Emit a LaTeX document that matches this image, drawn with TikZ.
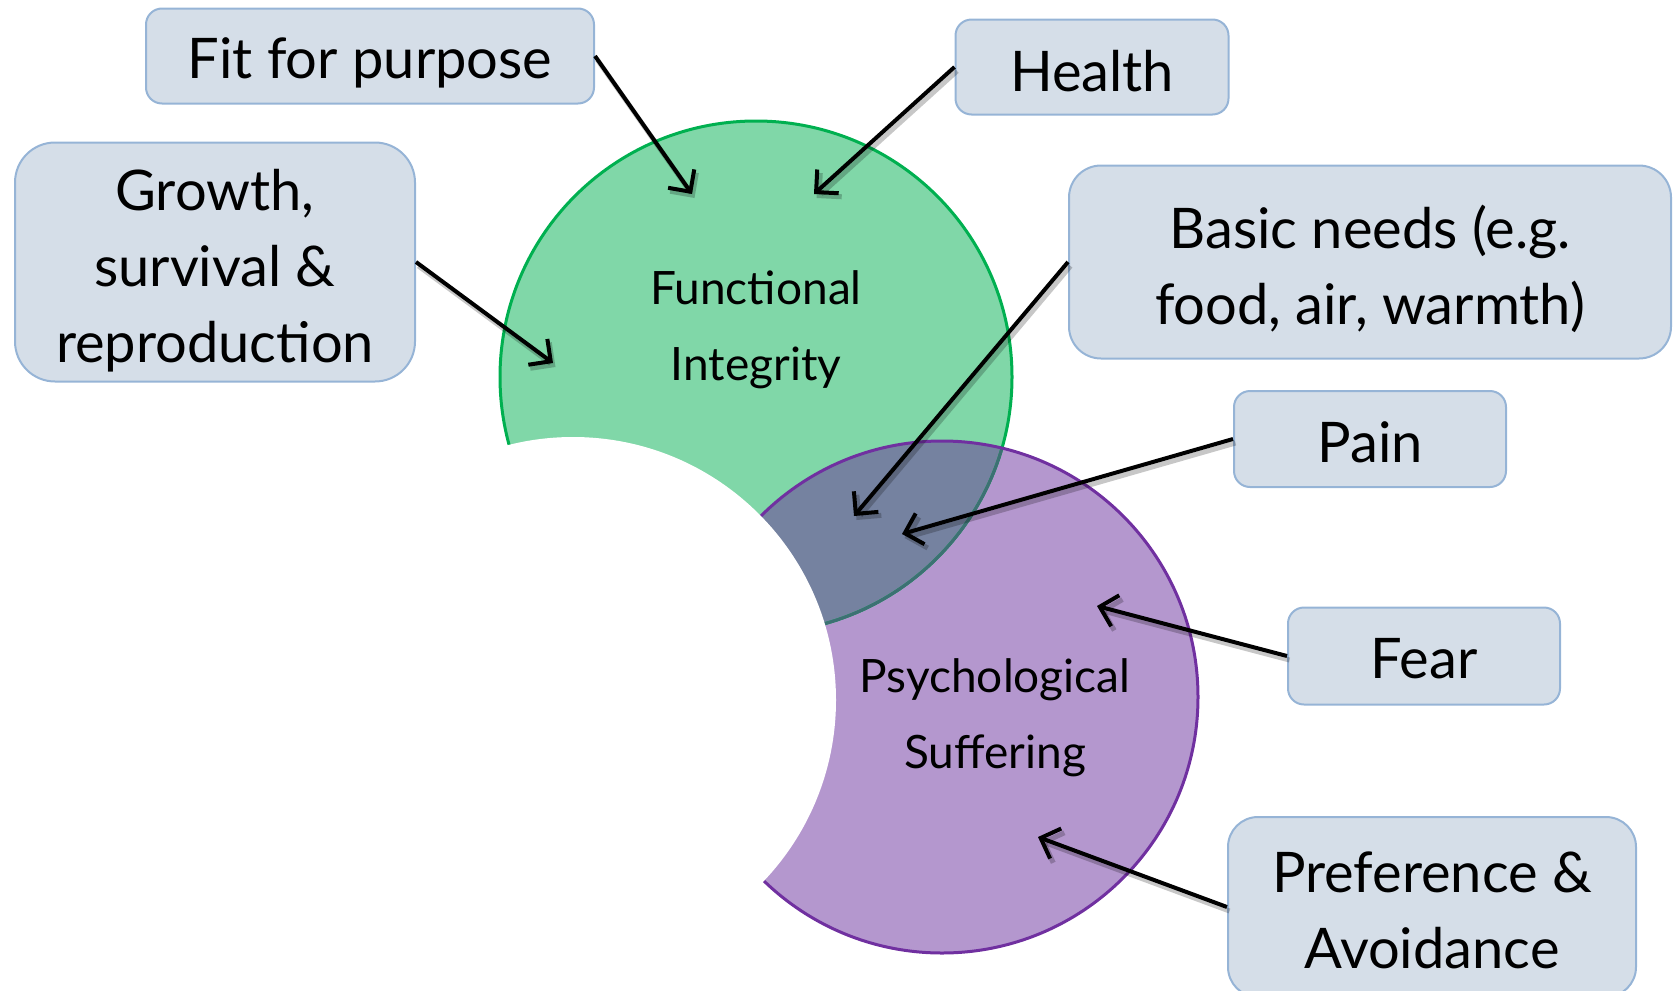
\documentclass[tikz,border=0pt]{standalone}
\usepackage{fontspec}
\setmainfont{Lato}
\usetikzlibrary{arrows.meta}
\definecolor{gfill}{RGB}{128,215,168}
\definecolor{gline}{RGB}{0,176,80}
\definecolor{pfill}{RGB}{180,151,206}
\definecolor{pline}{RGB}{112,48,160}
\definecolor{ofill}{RGB}{117,130,160}
\definecolor{oline}{RGB}{61,112,115}
\definecolor{boxfill}{RGB}{213,222,232}
\definecolor{boxline}{RGB}{150,180,214}
\begin{document}
\begin{tikzpicture}[x=1pt,y=-1pt,
  lbl/.style={draw=boxline, fill=boxfill, line width=2pt, inner sep=0pt},
  lbltext/.style={align=center, font=\fontsize{56}{76}\selectfont, inner sep=0pt},
  circtext/.style={align=center, font=\fontsize{46}{76}\selectfont},
  arr/.style={-{Straight Barb[length=16pt,width=32pt,line width=4pt]}, line width=4pt},
  arrshadow/.style={-{Straight Barb[length=16pt,width=32pt,line width=5pt]}, line width=5pt,
    draw=black, opacity=0.22, transform canvas={shift={(2.5pt,-4pt)}}}
]
\useasboundingbox (0,0) rectangle (1674,991);
% circles
\fill[gfill] (756,377) circle[radius=256pt];
\fill[pfill] (942,697) circle[radius=256pt];
\begin{scope}
  \clip (756,377) circle[radius=256pt];
  \fill[ofill] (942,697) circle[radius=256pt];
\end{scope}
\draw[gline, line width=3pt] (756,377) circle[radius=256pt];
\begin{scope}
  \clip (942,697) circle[radius=256pt];
  \draw[oline, line width=3pt] (756,377) circle[radius=256pt];
\end{scope}
\draw[pline, line width=3pt] (942,697) circle[radius=256pt];
\fill[white] (573,700) circle[radius=263pt];
% circle labels
\node[circtext] (fi) at (756,330) {Functional\\Integrity};
\node[circtext] (ps) at (995,718) {Psychological\\Suffering};
% boxes
\node[lbl, rounded corners=16pt, minimum width=448pt, minimum height=95pt] (fit) at (370,56) {};
\node[lbl, rounded corners=16pt, minimum width=273pt, minimum height=95pt] (health) at (1092,67) {};
\node[lbl, rounded corners=40pt, minimum width=400pt, minimum height=239pt] (growth) at (215,262) {};
\node[lbl, rounded corners=32pt, minimum width=602pt, minimum height=193pt] (basic) at (1370,262) {};
\node[lbl, rounded corners=16pt, minimum width=272pt, minimum height=96pt] (pain) at (1370,439) {};
\node[lbl, rounded corners=16pt, minimum width=272pt, minimum height=97pt] (fear) at (1424,656) {};
\node[lbl, rounded corners=30pt, minimum width=408pt, minimum height=180pt] (pref) at (1432,907) {};
% box texts
\node[lbltext] (fit-t) at (370,63) {Fit for purpose};
\node[lbltext] (health-t) at (1092,71) {Health};
\node[lbltext] (growth-t) at (215,271) {Growth,\\survival \&\\reproduction};
\node[lbltext] (basic-t) at (1370,269) {Basic needs (e.g.\\food, air, warmth)};
\node[lbltext] (pain-t) at (1370,442) {Pain};
\node[lbltext] (fear-t) at (1424,659) {Fear};
\node[lbltext] (pref-t) at (1432,910) {Preference \&\\Avoidance};
% arrow targets
\coordinate (tfit) at (692,194);
\coordinate (thealth) at (814,194);
\coordinate (tgrowth) at (553,363);
\coordinate (tbasic) at (854,516);
\coordinate (tpain) at (902,534);
\coordinate (tfear) at (1097,606);
\coordinate (tpref) at (1038,837);
% arrow shadows
\draw[arrshadow] (fit.east) -- (tfit);
\draw[arrshadow] (health.west) -- (thealth);
\draw[arrshadow] (growth.east) -- (tgrowth);
\draw[arrshadow] (basic.west) -- (tbasic);
\draw[arrshadow] (pain.west) -- (tpain);
\draw[arrshadow] (fear.west) -- (tfear);
\draw[arrshadow] (pref.west) -- (tpref);
% arrows
\draw[arr] (fit.east) -- (tfit);
\draw[arr] (health.west) -- (thealth);
\draw[arr] (growth.east) -- (tgrowth);
\draw[arr] (basic.west) -- (tbasic);
\draw[arr] (pain.west) -- (tpain);
\draw[arr] (fear.west) -- (tfear);
\draw[arr] (pref.west) -- (tpref);
\end{tikzpicture}
\end{document}
